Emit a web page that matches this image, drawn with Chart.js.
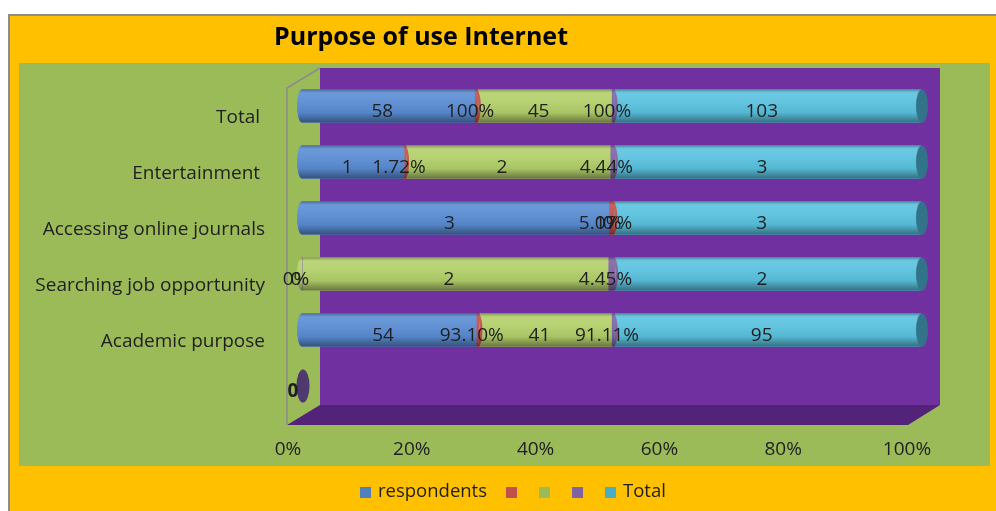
<!DOCTYPE html>
<html>
<head>
<meta charset="utf-8">
<title>Purpose of use Internet</title>
<script src="https://cdn.jsdelivr.net/npm/chart.js"></script>
<style>
  html, body { margin: 0; padding: 0; background: #fff; }
  canvas { display: block; }
</style>
</head>
<body>
<canvas id="myChart" width="996" height="511"></canvas>
<script>
/*------------------------------------------------------------------------------------------------*/
//datos
const chartTitle = 'Purpose of use Internet';
const categories = ['Total ', 'Entertainment ', 'Accessing online journals', 'Searching job opportunity', 'Academic purpose', ''];
const respondents = [58, 1, 3, 0, 54, 0];
const respondentsPct = [1, 0.0172, 0.0517, 0, 0.9310, 0];
const secondCount = [45, 2, 0, 2, 41, 0];
const secondPct = [1, 0.0444, 0, 0.0445, 0.9111, 0];
const totals = [103, 3, 3, 2, 95, 0];
const tickLabels = ['0%', '20%', '40%', '60%', '80%', '100%'];
const legendNames = ['respondents', '', '', '', 'Total'];

/*------------------------------------------------------------------------------------------------*/
//colores
const barColors = ['#5A8DD3', '#C0504D', '#B3D06A', '#8064A2', '#5BC2DF'];
const legendColors = ['#4F81BD', '#C0504D', '#9BBB59', '#8064A2', '#4BACC6'];
const textColor = '#1f1f1f';
const fontFamily = "'Open Sans', sans-serif";

/*------------------------------------------------------------------------------------------------*/
//100% stacked
const series = [respondents, respondentsPct, secondCount, secondPct, totals];
const isPct = [false, true, false, true, false];
const rowSum = categories.map((c, i) => series.reduce((s, arr) => s + arr[i], 0));

const datasets = series.map((arr, k) => ({
    label: legendNames[k],
    data: arr.map((v, i) => rowSum[i] ? v / rowSum[i] * 100 : 0),
    backgroundColor: barColors[k],
    borderWidth: 0,
    barThickness: 33
}));

const fmt = (v, pct) => {
    if (!pct) return String(v);
    const p = Math.round(v * 10000) / 100;
    return Number.isInteger(p) ? p + '%' : p.toFixed(2) + '%';
};

/*------------------------------------------------------------------------------------------------*/
//fondo 3d
const backdrop = {
    id: 'backdrop',
    beforeDraw(chart) {
        const ctx = chart.ctx;
        const xs = chart.scales.x;
        const x0 = xs.getPixelForValue(0), x1 = xs.getPixelForValue(100);
        const top = chart.chartArea.top, bottom = chart.chartArea.bottom;
        ctx.save();
        ctx.fillStyle = '#ffffff';
        ctx.fillRect(0, 0, chart.width, chart.height);
        ctx.fillStyle = '#FFC000';
        ctx.fillRect(9, 15, chart.width - 9, chart.height - 15);
        ctx.strokeStyle = '#8C8C8C';
        ctx.lineWidth = 2;
        ctx.strokeRect(9, 15, chart.width + 5, chart.height + 5);
        ctx.fillStyle = '#9BBB59';
        ctx.fillRect(19, 63, 971, 403);
        // back wall
        ctx.fillStyle = '#7030A0';
        ctx.fillRect(x0 + 18, top - 10, x1 - x0 + 1, bottom - top + 1);
        // floor
        ctx.fillStyle = '#53237A';
        ctx.beginPath();
        ctx.moveTo(x0 - 15, bottom + 11);
        ctx.lineTo(x1 - 13, bottom + 11);
        ctx.lineTo(x1 + 19, bottom - 9);
        ctx.lineTo(x0 + 18, bottom - 9);
        ctx.closePath();
        ctx.fill();
        // left wall
        ctx.strokeStyle = '#8C8C8C';
        ctx.lineWidth = 1.5;
        ctx.beginPath();
        ctx.moveTo(x0 + 18, top - 10);
        ctx.lineTo(x0 - 15, top + 10);
        ctx.lineTo(x0 - 15, bottom + 11);
        ctx.stroke();
        ctx.restore();
    }
};

/*------------------------------------------------------------------------------------------------*/
//cilindros y etiquetas
const cylinders = {
    id: 'cylinders',
    beforeDatasetsDraw(chart) {
        const ctx = chart.ctx;
        const x0 = chart.scales.x.getPixelForValue(0);
        ctx.save();
        categories.forEach((c, i) => {
            if (!rowSum[i]) return;
            const el = chart.getDatasetMeta(0).data[i];
            const k = series.findIndex(arr => arr[i] > 0);
            ctx.fillStyle = barColors[k];
            ctx.beginPath();
            ctx.ellipse(x0, el.y, 5, el.height / 2, 0, 0, Math.PI * 2);
            ctx.fill();
        });
        ctx.restore();
    },
    afterDatasetsDraw(chart) {
        const ctx = chart.ctx;
        const x0 = chart.scales.x.getPixelForValue(0), x1 = chart.scales.x.getPixelForValue(100);
        ctx.save();
        categories.forEach((c, i) => {
            const el = chart.getDatasetMeta(0).data[i];
            const h = el.height, cy = el.y, top = cy - h / 2;
            if (!rowSum[i]) {
                ctx.fillStyle = '#4E3A6E';
                ctx.beginPath();
                ctx.ellipse(x0 + 1, cy, 6.5, 16.5, 0, 0, Math.PI * 2);
                ctx.fill();
                ctx.fillStyle = textColor;
                ctx.font = 'bold 19px ' + fontFamily;
                ctx.textAlign = 'center';
                ctx.textBaseline = 'middle';
                ctx.fillText('0', x0 - 9, cy + 6);
                return;
            }
            // thin segments as curved rims
            series.forEach((arr, k) => {
                if (!isPct[k] || !arr[i]) return;
                const seg = chart.getDatasetMeta(k).data[i];
                ctx.strokeStyle = barColors[k];
                ctx.lineWidth = 2.5;
                ctx.beginPath();
                ctx.ellipse(seg.x - 2, cy, 4, h / 2 - 1, 0, -Math.PI / 2, Math.PI / 2);
                ctx.stroke();
            });
            // shading
            const g = ctx.createLinearGradient(0, top, 0, top + h);
            g.addColorStop(0, 'rgba(0,0,0,0.30)');
            g.addColorStop(0.12, 'rgba(255,255,255,0.10)');
            g.addColorStop(0.35, 'rgba(255,255,255,0.06)');
            g.addColorStop(0.7, 'rgba(0,0,0,0.06)');
            g.addColorStop(1, 'rgba(0,0,0,0.42)');
            ctx.fillStyle = g;
            ctx.beginPath();
            ctx.ellipse(x0, cy, 5, h / 2, 0, Math.PI / 2, Math.PI * 1.5);
            ctx.lineTo(x1, top);
            ctx.lineTo(x1, top + h);
            ctx.closePath();
            ctx.fill();
            // right end
            ctx.fillStyle = '#317389';
            ctx.beginPath();
            ctx.ellipse(x1 + 1, cy, 6, h / 2, 0, 0, Math.PI * 2);
            ctx.fill();
            // labels
            ctx.fillStyle = textColor;
            ctx.font = '19px ' + fontFamily;
            ctx.textAlign = 'center';
            ctx.textBaseline = 'middle';
            series.forEach((arr, k) => {
                const seg = chart.getDatasetMeta(k).data[i];
                ctx.fillText(fmt(arr[i], isPct[k]), (seg.x + seg.base) / 2 - 6, cy + 6);
            });
        });
        ctx.restore();
    },
    afterDraw(chart) {
        const ctx = chart.ctx;
        ctx.save();
        // titulo
        ctx.fillStyle = '#000';
        ctx.font = 'bold 25px ' + fontFamily;
        ctx.textAlign = 'center';
        ctx.textBaseline = 'middle';
        ctx.fillText(chartTitle, 421, 38);
        // leyenda
        ctx.font = '18.5px ' + fontFamily;
        ctx.textAlign = 'left';
        let x = 360;
        legendNames.forEach((name, k) => {
            ctx.fillStyle = legendColors[k];
            ctx.fillRect(x, 487, 11, 11);
            const tw = name ? ctx.measureText(name).width : 0;
            if (name) {
                ctx.fillStyle = textColor;
                ctx.fillText(name, x + 18, 492);
            }
            x += 33 + (tw ? tw + 4 : 0);
        });
        ctx.restore();
    }
};

/*------------------------------------------------------------------------------------------------*/
//grafico
Chart.defaults.font.family = fontFamily;
const ctx = document.getElementById('myChart');
const myChart = new Chart(ctx, {
    type: 'bar',
    data: {
        labels: categories,
        datasets: datasets
    },
    options: {
        indexAxis: 'y',
        responsive: false,
        animation: false,
        layout: { padding: { top: 78, right: 75, bottom: 0, left: 0 } },
        plugins: {
            legend: { display: false },
            tooltip: { enabled: false }
        },
        scales: {
            x: {
                stacked: true,
                min: 0,
                max: 100,
                grid: { display: false, drawTicks: false },
                border: { display: false },
                ticks: {
                    stepSize: 20,
                    autoSkip: false,
                    maxRotation: 0,
                    callback: (v, i) => tickLabels[i],
                    labelOffset: -14,
                    padding: 24,
                    color: textColor,
                    font: { size: 19 }
                },
                afterFit: s => { s.height = 97; }
            },
            y: {
                stacked: true,
                grid: { display: false, drawTicks: false },
                border: { display: false },
                ticks: {
                    autoSkip: false,
                    padding: 37,
                    labelOffset: 12,
                    color: textColor,
                    font: { size: 19 }
                },
                afterFit: s => { s.width = 302; }
            }
        }
    },
    plugins: [backdrop, cylinders]
});
</script>
</body>
</html>
